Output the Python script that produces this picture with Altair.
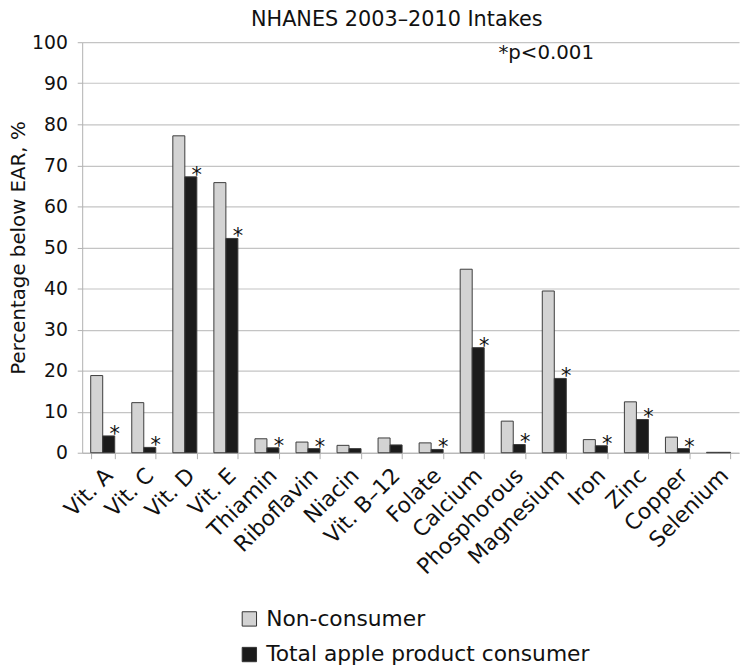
import altair as alt
import pandas as pd

categories = ["Vit. A", "Vit. C", "Vit. D", "Vit. E", "Thiamin", "Riboflavin", "Niacin",
              "Vit. B–12", "Folate", "Calcium", "Phosphorous", "Magnesium", "Iron", "Zinc",
              "Copper", "Selenium"]
non_consumer = [18.8, 12.2, 77.2, 65.8, 3.4, 2.6, 1.8, 3.6, 2.4, 44.7, 7.7, 39.4, 3.2, 12.4, 3.8, 0.1]
consumer = [4.1, 1.3, 67.2, 52.2, 1.2, 1.0, 1.0, 1.9, 0.8, 25.6, 2.0, 18.1, 1.7, 8.1, 1.0, 0.1]
significant = [True, True, True, True, True, True, False, False, True, True, True, True, True, True, True, False]
series = ["Non-consumer", "Total apple product consumer"]
y_ticks = [0, 10, 20, 30, 40, 50, 60, 70, 80, 90, 100]

FONT = "DejaVu Sans"

rows = []
for c, a, b in zip(categories, non_consumer, consumer):
    rows.append({"nutrient": c, "series": series[0], "value": a})
    rows.append({"nutrient": c, "series": series[1], "value": b})
df = pd.DataFrame(rows)

stars = pd.DataFrame([
    {"nutrient": c, "series": series[1], "value": v, "label": "*"}
    for c, v, s in zip(categories, consumer, significant) if s
])

note = pd.DataFrame([{"nutrient": "Phosphorous", "value": 96.0, "label": "*p<0.001"}])

x_enc = alt.X("nutrient:N", sort=categories,
              scale=alt.Scale(paddingInner=0.415, paddingOuter=0.2075),
              axis=alt.Axis(title=None, labelAngle=-45, labelAlign="right", labelBaseline="middle",
                            labelFontSize=22, labelFont=FONT, labelColor="#111",
                            labelPadding=13, labelOffset=6, tickBand="extent", tickSize=6,
                            tickColor="#b0b0b0", domainColor="#b0b0b0", grid=False,
                            labelOverlap=False))
y_scale = alt.Scale(domain=[0, 100], nice=False)
y_axis = alt.Axis(title="Percentage below EAR, %", values=y_ticks, titleFontSize=20, titleFont=FONT,
                  titleFontWeight="normal", titleColor="#111", titlePadding=3,
                  labelFontSize=19, labelFont=FONT, labelColor="#111", labelPadding=10,
                  tickSize=5, tickColor="#b0b0b0", domainColor="#b0b0b0",
                  grid=True, gridColor="#c4c4c4", gridWidth=1.2)

bars = alt.Chart(df).mark_bar(stroke="#3c3c3c", strokeWidth=1).encode(
    x=x_enc,
    xOffset=alt.XOffset("series:N", scale=alt.Scale(domain=series)),
    y=alt.Y("value:Q", scale=y_scale, axis=y_axis),
    color=alt.Color("series:N",
                    scale=alt.Scale(domain=series, range=["#d3d3d3", "#1b1b1b"]),
                    legend=alt.Legend(title=None, orient="none", legendX=158, legendY=572,
                                      direction="vertical", symbolType="square", symbolSize=210,
                                      symbolStrokeColor="#333", symbolStrokeWidth=1,
                                      labelFontSize=22, labelFont=FONT, labelColor="#111",
                                      labelOffset=6, rowPadding=14, labelLimit=500)),
)

star_marks = alt.Chart(stars).mark_text(fontSize=21, font=FONT, color="#111", dx=6, dy=5,
                                        baseline="alphabetic").encode(
    x=alt.X("nutrient:N", sort=categories),
    xOffset=alt.XOffset("series:N", scale=alt.Scale(domain=series)),
    y=alt.Y("value:Q", scale=y_scale),
    text="label:N",
)

note_mark = alt.Chart(note).mark_text(fontSize=20, font=FONT, color="#111", align="left",
                                      dx=-15, baseline="alphabetic").encode(
    x=alt.X("nutrient:N", sort=categories),
    y=alt.Y("value:Q", scale=y_scale),
    text="label:N",
)

chart = alt.layer(bars, star_marks, note_mark).properties(
    width=664, height=415,
    title=alt.TitleParams("NHANES 2003–2010 Intakes", fontSize=21, font=FONT, fontWeight="normal",
                          color="#111", anchor="middle", dx=-14, offset=3),
    padding={"left": 75, "top": 31, "right": 3, "bottom": 212},
    autosize=alt.AutoSizeParams(type="none"),
).configure_view(stroke=None)

chart.save("out.html", embed_options={"renderer": "svg", "actions": False})
